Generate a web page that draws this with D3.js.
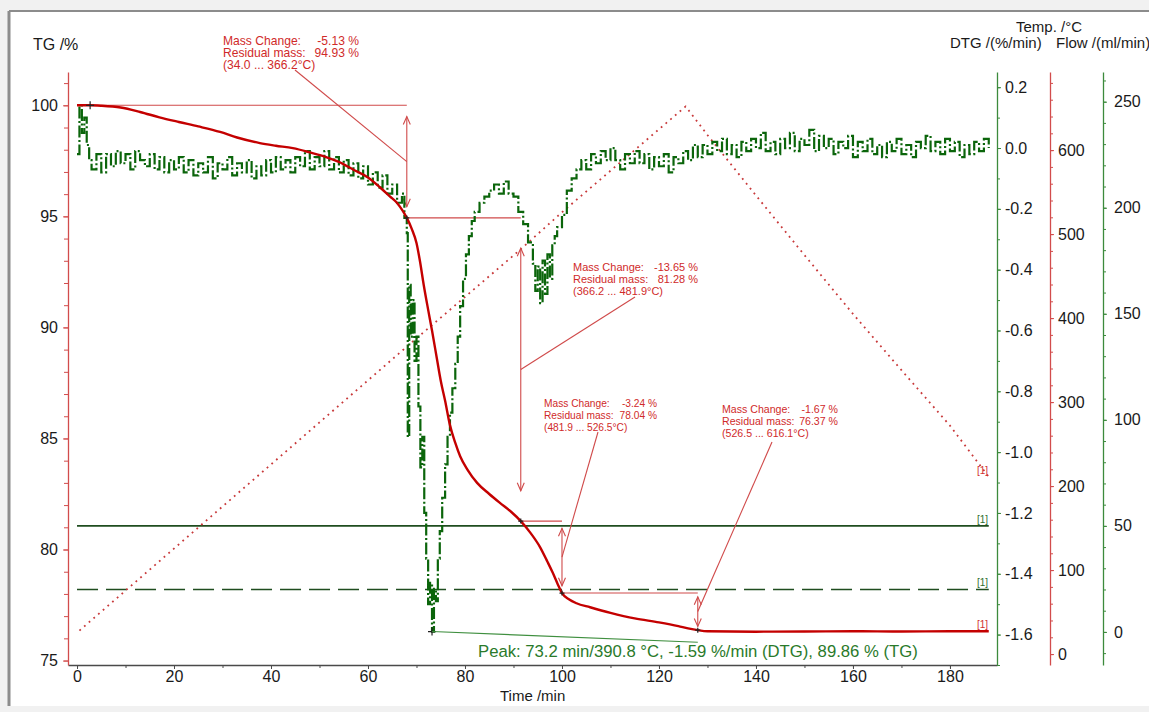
<!DOCTYPE html>
<html>
<head>
<meta charset="utf-8">
<script src="https://cdn.jsdelivr.net/npm/d3@7"></script>
<style>
  html, body { margin: 0; padding: 0; background: #ffffff; }
  svg { display: block; font-family: "Liberation Sans", Arial, sans-serif; }
</style>
</head>
<body>
<svg id="chart" width="1149" height="712"></svg>
<script>
// ---- TG curve (mass %, vs time in min) ----
const tgTime  = [0, 2.7, 5, 9, 13, 17, 21, 25, 29.5, 33, 37.7, 41, 44.5, 48, 51.5, 54, 57, 60, 62.5, 64.5,
                 66, 67, 68, 69, 70, 70.7, 71.5, 72.4, 73.2, 74.2, 75, 75.9, 76.9, 78, 79, 80.5, 82.5, 85,
                 87.2, 89.5, 91.5, 93.5, 95.5, 97, 98.1, 99.1, 100, 101.5, 103, 105.8, 110, 115, 120, 124,
                 126, 128, 130, 140, 150, 160, 170, 180, 188];
const tgValue = [100.0, 100.0, 99.98, 99.9, 99.7, 99.46, 99.25, 99.05, 98.8, 98.55, 98.3, 98.18, 98.07, 97.88,
                 97.66, 97.45, 97.1, 96.75, 96.3, 95.9, 95.6, 95.3, 94.93, 94.45, 93.8, 93.0, 91.9, 90.8, 89.86,
                 88.6, 87.6, 86.7, 85.6, 84.8, 84.2, 83.6, 83.0, 82.5, 82.1, 81.7, 81.28, 80.75, 80.1, 79.45,
                 78.95, 78.45, 78.04, 77.75, 77.58, 77.4, 77.15, 76.9, 76.72, 76.55, 76.45, 76.37, 76.32, 76.3,
                 76.31, 76.32, 76.31, 76.32, 76.32];

// ---- DTG curve (%/min) ----
const dtgTime = [0, 0.5, 1, 1.5, 2, 2.5, 3, 4, 5, 6, 7, 8, 9, 10, 11, 12, 13, 14, 15, 16, 17, 18, 19, 20,
                 21, 22, 23, 24, 25, 26, 27, 28, 29, 30, 31, 32, 33, 34, 35, 36, 37, 38, 39, 40, 41, 42, 43,
                 44, 45, 46, 47, 48, 49, 50, 51, 52, 53, 54, 55, 56, 57, 58, 59, 60, 61, 62, 63, 64, 65, 66,
                 67, 67.5, 68, 68.2, 68.5, 68.8, 69.2, 69.6, 70, 70.4, 70.8, 71.2, 71.6, 72, 72.4, 72.8, 73.2,
                 73.6, 74, 74.4, 74.8, 75.3, 75.9, 76.4, 76.9, 77.4, 78, 78.5, 79, 79.6, 80.2, 80.8, 81.4, 82,
                 83, 84, 85, 86, 87, 88, 89, 90, 91, 92, 93, 94, 94.5, 95, 95.5, 96, 96.5, 97, 97.5, 98, 98.5,
                 99, 100, 101, 102, 103, 104, 105, 106, 107, 108, 109, 110, 111, 112, 113, 114, 115, 116, 117,
                 118, 119, 120, 121, 122, 123, 124, 125, 126, 127, 128, 129, 130, 131, 132, 133, 134, 135, 136,
                 137, 138, 139, 140, 141, 142, 143, 144, 145, 146, 147, 148, 149, 150, 151, 152, 153, 154, 155,
                 156, 157, 158, 159, 160, 161, 162, 163, 164, 165, 166, 167, 168, 169, 170, 171, 172, 173, 174,
                 175, 176, 177, 178, 179, 180, 181, 182, 183, 184, 185, 186, 187, 188];
const dtgValue = [-0.02, 0.14, 0.05, 0.10, 0.01, -0.04, -0.07, -0.02, -0.08, -0.02, -0.06, -0.01, -0.05, -0.02,
                  -0.07, -0.01, -0.04, -0.06, -0.02, -0.07, -0.03, -0.08, -0.04, -0.07, -0.03, -0.08, -0.04,
                  -0.09, -0.05, -0.08, -0.03, -0.10, -0.05, -0.07, -0.03, -0.09, -0.05, -0.08, -0.04, -0.10,
                  -0.06, -0.09, -0.04, -0.08, -0.03, -0.07, -0.04, -0.08, -0.03, -0.06, -0.01, -0.07, -0.03,
                  -0.06, -0.01, -0.07, -0.03, -0.08, -0.04, -0.09, -0.05, -0.10, -0.06, -0.12, -0.08, -0.13,
                  -0.09, -0.15, -0.12, -0.18, -0.15, -0.23, -0.28, -0.95, -0.45, -0.62, -0.50, -0.70, -0.62,
                  -0.85, -1.05, -0.95, -1.20, -1.35, -1.50, -1.43, -1.59, -1.45, -1.49, -1.35, -1.26, -1.15,
                  -1.04, -0.95, -0.87, -0.79, -0.71, -0.62, -0.52, -0.43, -0.35, -0.29, -0.24, -0.21, -0.18,
                  -0.16, -0.14, -0.12, -0.15, -0.11, -0.15, -0.16, -0.21, -0.25, -0.31, -0.38, -0.47, -0.39,
                  -0.51, -0.37, -0.48, -0.35, -0.43, -0.32, -0.29, -0.26, -0.22, -0.14, -0.10, -0.07, -0.04,
                  -0.07, -0.02, -0.05, -0.01, -0.04, 0.00, -0.04, -0.07, -0.02, -0.05, -0.01, -0.05, -0.02,
                  -0.07, -0.03, -0.06, -0.02, -0.08, -0.03, -0.05, -0.01, -0.04, 0.01, -0.03, 0.01, -0.02, 0.02,
                  -0.01, 0.03, -0.02, 0.01, -0.03, 0.02, -0.01, 0.03, 0.00, 0.05, -0.01, 0.02, -0.02, 0.03,
                  0.00, 0.05, -0.01, 0.03, 0.01, 0.06, -0.01, 0.04, 0.00, 0.03, -0.02, 0.02, 0.00, 0.04, -0.03,
                  0.02, -0.01, 0.03, -0.02, 0.01, -0.03, 0.02, -0.01, 0.03, -0.02, 0.01, -0.03, 0.02, 0.00,
                  0.04, -0.01, 0.02, -0.02, 0.03, -0.01, 0.02, -0.03, 0.01, -0.02, 0.02, -0.01, 0.03, 0.00];

// ---- Temperature programme (°C) ----
const tempTime  = [0.5, 68, 91.5, 100, 125.5, 130, 140, 150, 160, 170, 180, 188];
const tempValue = [28, 366, 482, 526, 652, 618, 546, 475, 405, 338, 272, 211];

// ---- Gas flows (ml/min) ----
const flowRates = [50, 20];
const flowSpan  = [0, 188];

// ---- Mass-loss steps ----
const stepTime    = [0, 68, 91.5, 100, 128];
const stepMass    = [100, 94.93, 81.28, 78.04, 76.37];
const massChange  = ["-5.13 %", "-13.65 %", "-3.24 %", "-1.67 %"];
const residual    = ["94.93 %", "81.28 %", "78.04 %", "76.37 %"];
const tempRanges  = ["(34.0 ... 366.2°C)", "(366.2 ... 481.9°C)", "(481.9 ... 526.5°C)", "(526.5 ... 616.1°C)"];

// ---- DTG peak ----
const peakTime = 73.2, peakDTG = -1.59;
const peakText = "Peak: 73.2 min/390.8 °C, -1.59 %/min (DTG), 89.86 % (TG)";

// ---- Axis ticks ----
const timeTicks = [0, 20, 40, 60, 80, 100, 120, 140, 160, 180];
const tgTicks   = [75, 80, 85, 90, 95, 100];
const dtgTicks  = [-1.6, -1.4, -1.2, -1.0, -0.8, -0.6, -0.4, -0.2, 0.0, 0.2];
const tempTicks = [0, 100, 200, 300, 400, 500, 600];
const flowTicks = [0, 50, 100, 150, 200, 250];

// ---------------------------------------------------------------
const RED = "#c40000", RED_LT = "#d04a4a", GREEN = "#0b650b", GREEN_AX = "#3c8a3c";
const svg = d3.select("#chart");

// page frame
svg.append("rect").attr("width", 1149).attr("height", 712).attr("fill", "#f1f1f1");
svg.append("rect").attr("x", 10).attr("y", 12).attr("width", 1139).attr("height", 694).attr("fill", "#ffffff");
svg.append("line").attr("x1", 9).attr("x2", 1149).attr("y1", 11).attr("y2", 11).attr("stroke", "#8c8c8c").attr("stroke-width", 2);
svg.append("line").attr("x1", 9).attr("x2", 9).attr("y1", 11).attr("y2", 706).attr("stroke", "#8c8c8c").attr("stroke-width", 3);

const TOP = 72, BOT = 665;
const x     = d3.scaleLinear().domain([-1.86, 189.7]).range([68, 997]);
const yTG   = d3.scaleLinear().domain([74.8, 101.5]).range([BOT, TOP]);
const yDTG  = d3.scaleLinear().domain([-1.70, 0.25]).range([BOT, TOP]);
const yTemp = d3.scaleLinear().domain([-13, 693]).range([BOT, TOP]);
const yFlow = d3.scaleLinear().domain([-15.6, 264]).range([BOT, TOP]);

function styleAxis(g, color, fs) {
  g.select(".domain").attr("stroke", color).attr("stroke-width", 1.3);
  g.selectAll(".tick line").attr("stroke", color);
  g.selectAll(".tick text").attr("fill", "#1a1a1a").style("font-size", fs + "px")
    .style("font-family", '"Liberation Sans", Arial, sans-serif');
}
function minorTicks(lo, hi, step) {
  const v = [];
  for (let k = Math.round(lo / step); k * step <= hi + 1e-9; k++) v.push(+(k * step).toFixed(4));
  return v;
}

// x axis (time)
const gx = svg.append("g").attr("transform", `translate(0,${BOT})`);
gx.call(d3.axisBottom(x).tickValues(minorTicks(0, 180, 10)).tickSize(3).tickSizeOuter(0).tickFormat(""));
const gx2 = svg.append("g").attr("transform", `translate(0,${BOT})`);
gx2.call(d3.axisBottom(x).tickValues(timeTicks).tickSize(4).tickPadding(2).tickSizeOuter(0));
gx2.select(".domain").remove();
styleAxis(gx, "#4a4a4a", 16); styleAxis(gx2, "#4a4a4a", 16);
svg.append("text").attr("x", 500).attr("y", 701).attr("font-size", 15).attr("fill", "#1a1a1a").text("Time /min");

// TG axis (left)
const gtgMinor = svg.append("g").attr("transform", "translate(68,0)")
  .call(d3.axisLeft(yTG).tickValues(minorTicks(75, 101, 1)).tickSize(4).tickSizeOuter(0).tickFormat(""));
styleAxis(gtgMinor, "#d24c4c", 16);
const gtg = svg.append("g").attr("transform", "translate(68,0)")
  .call(d3.axisLeft(yTG).tickValues(tgTicks).tickSize(5).tickPadding(5).tickSizeOuter(0));
gtg.select(".domain").remove();
styleAxis(gtg, "#d24c4c", 16);
svg.append("text").attr("x", 33).attr("y", 50).attr("font-size", 16).attr("fill", "#1a1a1a").text("TG /%");

// DTG axis
const gdMinor = svg.append("g").attr("transform", "translate(997,0)")
  .call(d3.axisRight(yDTG).tickValues(minorTicks(-1.7, 0.2, 0.1)).tickSize(3).tickSizeOuter(0).tickFormat(""));
styleAxis(gdMinor, GREEN_AX, 16);
const gd = svg.append("g").attr("transform", "translate(997,0)")
  .call(d3.axisRight(yDTG).tickValues(dtgTicks).tickSize(4).tickPadding(4).tickSizeOuter(0));
gd.select(".domain").remove();
styleAxis(gd, GREEN_AX, 16);
gd.selectAll(".tick text").text(d => d3.format(".1f")(d).replace("−", "-"));

// Temperature axis
const gtMinor = svg.append("g").attr("transform", "translate(1050,0)")
  .call(d3.axisRight(yTemp).tickValues(minorTicks(0, 680, 20)).tickSize(3).tickSizeOuter(0).tickFormat(""));
styleAxis(gtMinor, "#d24c4c", 16);
const gt = svg.append("g").attr("transform", "translate(1050,0)")
  .call(d3.axisRight(yTemp).tickValues(tempTicks).tickSize(4).tickPadding(4).tickSizeOuter(0));
gt.select(".domain").remove();
styleAxis(gt, "#d24c4c", 16);

// Flow axis
const gfMinor = svg.append("g").attr("transform", "translate(1103,0)")
  .call(d3.axisRight(yFlow).tickValues(minorTicks(-10, 260, 10)).tickSize(3).tickSizeOuter(0).tickFormat(""));
styleAxis(gfMinor, GREEN_AX, 16);
const gf = svg.append("g").attr("transform", "translate(1103,0)")
  .call(d3.axisRight(yFlow).tickValues(flowTicks).tickSize(4).tickPadding(7).tickSizeOuter(0));
gf.select(".domain").remove();
styleAxis(gf, GREEN_AX, 16);

// right-hand axis titles
svg.append("text").attr("x", 1016).attr("y", 32).attr("font-size", 15).attr("fill", "#1a1a1a").text("Temp. /°C");
svg.append("text").attr("x", 950).attr("y", 48).attr("font-size", 15).attr("fill", "#1a1a1a").text("DTG /(%/min)");
svg.append("text").attr("x", 1056).attr("y", 48).attr("font-size", 15).attr("fill", "#1a1a1a").text("Flow /(ml/min)");

// ---- gas flow lines ----
flowRates.forEach((f, i) => {
  svg.append("line")
    .attr("x1", x(flowSpan[0])).attr("x2", x(flowSpan[1]))
    .attr("y1", yFlow(f)).attr("y2", yFlow(f))
    .attr("stroke", "#1f4d1f").attr("stroke-width", 1.6)
    .attr("stroke-dasharray", i === 0 ? null : "21,8");
});

// ---- temperature (dotted) ----
const tempData = tempTime.map((t, i) => [t, tempValue[i]]);
svg.append("path").datum(tempData)
  .attr("d", d3.line().x(d => x(d[0])).y(d => yTemp(d[1])))
  .attr("fill", "none").attr("stroke", "#c8393a").attr("stroke-width", 1.8)
  .attr("stroke-dasharray", "1.8,4.4");

// ---- mass-step construction lines ----
const ann = svg.append("g").attr("stroke", RED_LT).attr("stroke-width", 1.1).attr("fill", "none");
function dblArrow(xp, ya, yb) {
  const gap = (yb - ya) * 0.1;
  const y1 = ya + gap, y2 = yb - gap;
  ann.append("line").attr("x1", xp).attr("x2", xp).attr("y1", y1).attr("y2", y2);
  ann.append("path").attr("d", `M${xp - 3.5},${y1 + 8}L${xp},${y1}L${xp + 3.5},${y1 + 8}`);
  ann.append("path").attr("d", `M${xp - 3.5},${y2 - 8}L${xp},${y2}L${xp + 3.5},${y2 - 8}`);
  return (y1 + y2) / 2;
}
// text anchor, value column end and font size for each step label
const labelPos  = [[223, 45, 136, 12.1], [573, 271, 125, 11.0], [544, 407, 113, 10.2], [722, 413, 116, 10.6]];
const leaderOff = [[72, 25], [62, 26], [54, 25], [50, 29]];
const cross = (g, cx, cy, s, col) => {
  g.append("path").attr("d", `M${cx - s},${cy}H${cx + s}M${cx},${cy - s}V${cy + s}`)
    .attr("stroke", col).attr("stroke-width", 1.2).attr("fill", "none");
};
for (let i = 0; i < 4; i++) {
  const xa = x(stepTime[i]), xb = x(stepTime[i + 1]);
  const ya = yTG(stepMass[i]), yb = yTG(stepMass[i + 1]);
  ann.append("line").attr("x1", xa).attr("x2", xb).attr("y1", ya).attr("y2", ya);
  const mid = dblArrow(xb, ya, yb);
  const [lx, ly, vw, fs] = labelPos[i];
  ann.append("line").attr("x1", lx + leaderOff[i][0]).attr("y1", ly + leaderOff[i][1]).attr("x2", xb).attr("y2", mid);
  const t = svg.append("g").attr("fill", "#d02a2a").attr("font-size", fs);
  t.append("text").attr("x", lx).attr("y", ly).text("Mass Change:");
  t.append("text").attr("x", lx + vw).attr("y", ly).attr("text-anchor", "end").text(massChange[i]);
  t.append("text").attr("x", lx).attr("y", ly + 12).text("Residual mass:");
  t.append("text").attr("x", lx + vw).attr("y", ly + 12).attr("text-anchor", "end").text(residual[i]);
  t.append("text").attr("x", lx).attr("y", ly + 24).text(tempRanges[i]);
}

// ---- DTG curve ----
const dtgData = dtgTime.map((t, i) => [t, dtgValue[i]]);
svg.append("path").datum(dtgData)
  .attr("d", d3.line().x(d => x(d[0])).y(d => yDTG(d[1])).curve(d3.curveStepAfter))
  .attr("fill", "none").attr("stroke", GREEN).attr("stroke-width", 2.2)
  .attr("stroke-dasharray", "12,2.5,2,2.5");

// ---- TG curve ----
const tgData = tgTime.map((t, i) => [t, tgValue[i]]);
svg.append("path").datum(tgData)
  .attr("d", d3.line().x(d => x(d[0])).y(d => yTG(d[1])).curve(d3.curveMonotoneX))
  .attr("fill", "none").attr("stroke", RED).attr("stroke-width", 2.4);

// markers on TG step points
const mk = svg.append("g");
cross(mk, x(2.7), yTG(100), 4, "#222");
for (let i = 1; i < stepTime.length; i++) cross(mk, x(stepTime[i]), yTG(stepMass[i]), 2.5, "#222");

// ---- DTG peak ----
svg.append("line").attr("x1", x(peakTime)).attr("y1", yDTG(peakDTG))
  .attr("x2", x(128)).attr("y2", yDTG(-1.625)).attr("stroke", "#3f8f3f").attr("stroke-width", 1.1);
cross(mk, x(peakTime), yDTG(peakDTG), 4, "#222");
svg.append("text").attr("x", 478).attr("y", 657).attr("font-size", 16.7).attr("fill", "#2a7a2a").text(peakText);

// ---- curve end tags ----
const tag = (yv, col) => svg.append("text").attr("x", 977).attr("y", yv).attr("font-size", 10)
  .attr("fill", col).text("[1]");
tag(yTG(76.32) - 3, "#d03030");
tag(yTemp(211) - 3, "#d03030");
tag(yFlow(50) - 3, "#2f6f2f");
tag(yFlow(20) - 3, "#2f6f2f");
</script>
</body>
</html>
